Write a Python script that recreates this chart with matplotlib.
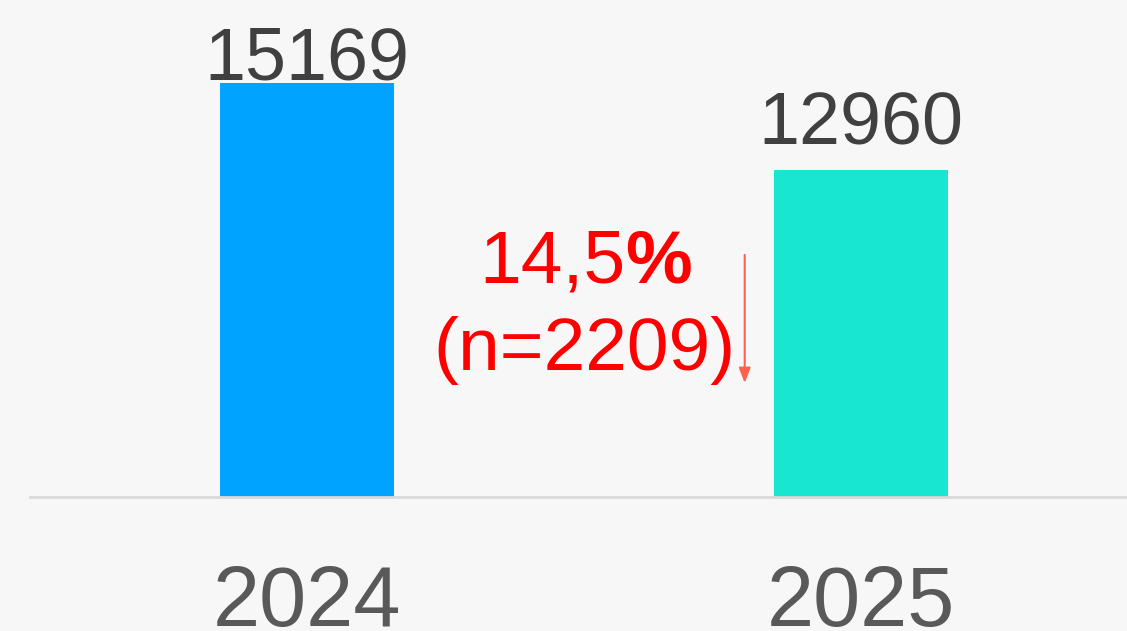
import matplotlib
matplotlib.use("Agg")
import matplotlib.pyplot as plt

years = ["2024", "2025"]
values = [15169, 12960]
bar_colors = ["#00A3FF", "#19E6D0"]
change_pct = "14,5"
change_n = "(n=2209)"

plt.rcParams['font.family'] = ['Liberation Sans', 'DejaVu Sans']

W, H = 1127, 631
fig = plt.figure(figsize=(W / 100, H / 100), dpi=100)
fig.patch.set_facecolor("#F7F7F7")
ax = fig.add_axes([30 / W, 134 / H, 1 - 30 / W, 1 - 134 / H])
ax.set_facecolor("#F7F7F7")

x = list(range(len(years)))
bars = ax.bar(x, values, width=0.314, color=bar_colors, zorder=2)
ax.set_xlim(-0.5, 1.48)
ax.set_ylim(4658, 17276)

for s in ax.spines.values():
    s.set_visible(False)
ax.axhline(4658, color="#D9D9D9", lw=2, zorder=3, clip_on=False)
ax.set_yticks([])
ax.set_xticks(x)
ax.set_xticklabels(years, fontsize=61, color="#595959")
ax.tick_params(axis='x', length=0, pad=48)

label_offsets = [3, 25]
for xi, v, off in zip(x, values, label_offsets):
    ax.annotate(str(v), xy=(xi, v), xytext=(0, off * 0.72), textcoords="offset points",
                ha="center", va="baseline", fontsize=53, color="#404040")

t1 = ax.text(0.574, 10116, change_pct, ha="right", va="baseline", fontsize=54, color="#FF0000")
ax.annotate("%", xy=(1, 0), xycoords=t1, ha="left", va="bottom",
            fontsize=54, color="#FF0000", fontweight="bold")
ax.text(0.5, 7882, change_n, ha="center", va="baseline", fontsize=54, color="#FF0000")

ax.annotate("", xy=(0.79, 7552), xytext=(0.79, 10802),
            arrowprops=dict(arrowstyle="-|>,head_length=0.9,head_width=0.35",
                            color="#FF6050", lw=1.5, shrinkA=0, shrinkB=0))

fig.savefig("out.png", dpi=100, facecolor=fig.get_facecolor())
